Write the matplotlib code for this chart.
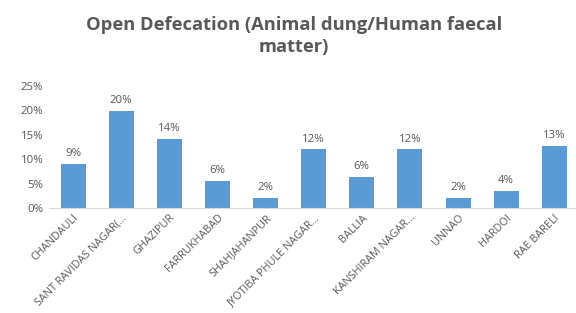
import matplotlib
matplotlib.use("Agg")
import matplotlib.pyplot as plt
from matplotlib.ticker import PercentFormatter

districts = ["CHANDAULI", "SANT RAVIDAS NAGAR(...", "GHAZIPUR", "FARRUKHABAD",
             "SHAHJAHANPUR", "JYOTIBA PHULE NAGAR...", "BALLIA", "KANSHIRAM NAGAR...",
             "UNNAO", "HARDOI", "RAE BARELI"]
values = [9.1, 19.9, 14.1, 5.6, 2.1, 12.0, 6.4, 12.0, 2.1, 3.5, 12.7]

grey = "#595959"
plt.rcParams['font.family'] = ['Open Sans', 'DejaVu Sans']

fig = plt.figure(figsize=(5.76, 3.13), dpi=100)
ax = fig.add_axes([0.085, 0.335, 0.915, 0.391])

x = range(len(districts))
ax.bar(x, values, width=0.52, color="#5B9BD5")
for i, v in zip(x, values):
    ax.text(i, v + 1.0, f"{v:.0f}%", ha="center", va="bottom", fontsize=8.2, color=grey)

ax.set_ylim(0, 25)
ax.set_xlim(-0.5, 10.45)
ax.set_yticks([0, 5, 10, 15, 20, 25])
ax.yaxis.set_major_formatter(PercentFormatter(decimals=0))
ax.set_xticks(list(x))
ax.set_xticklabels(districts, rotation=45, ha="right", rotation_mode="anchor")
ax.tick_params(axis="y", length=0, labelsize=8.2, colors=grey, pad=4)
ax.tick_params(axis="x", length=0, labelsize=7.8, colors=grey, pad=3)
for s in ["top", "right", "left"]:
    ax.spines[s].set_visible(False)
ax.spines["bottom"].set_color("#d9d9d9")

fig.text(0.51, 0.885, "Open Defecation (Animal dung/Human faecal\nmatter)",
         ha="center", va="center", fontsize=13.2, fontweight="bold", color=grey,
         linespacing=1.35)

fig.savefig("out.png", dpi=100)
